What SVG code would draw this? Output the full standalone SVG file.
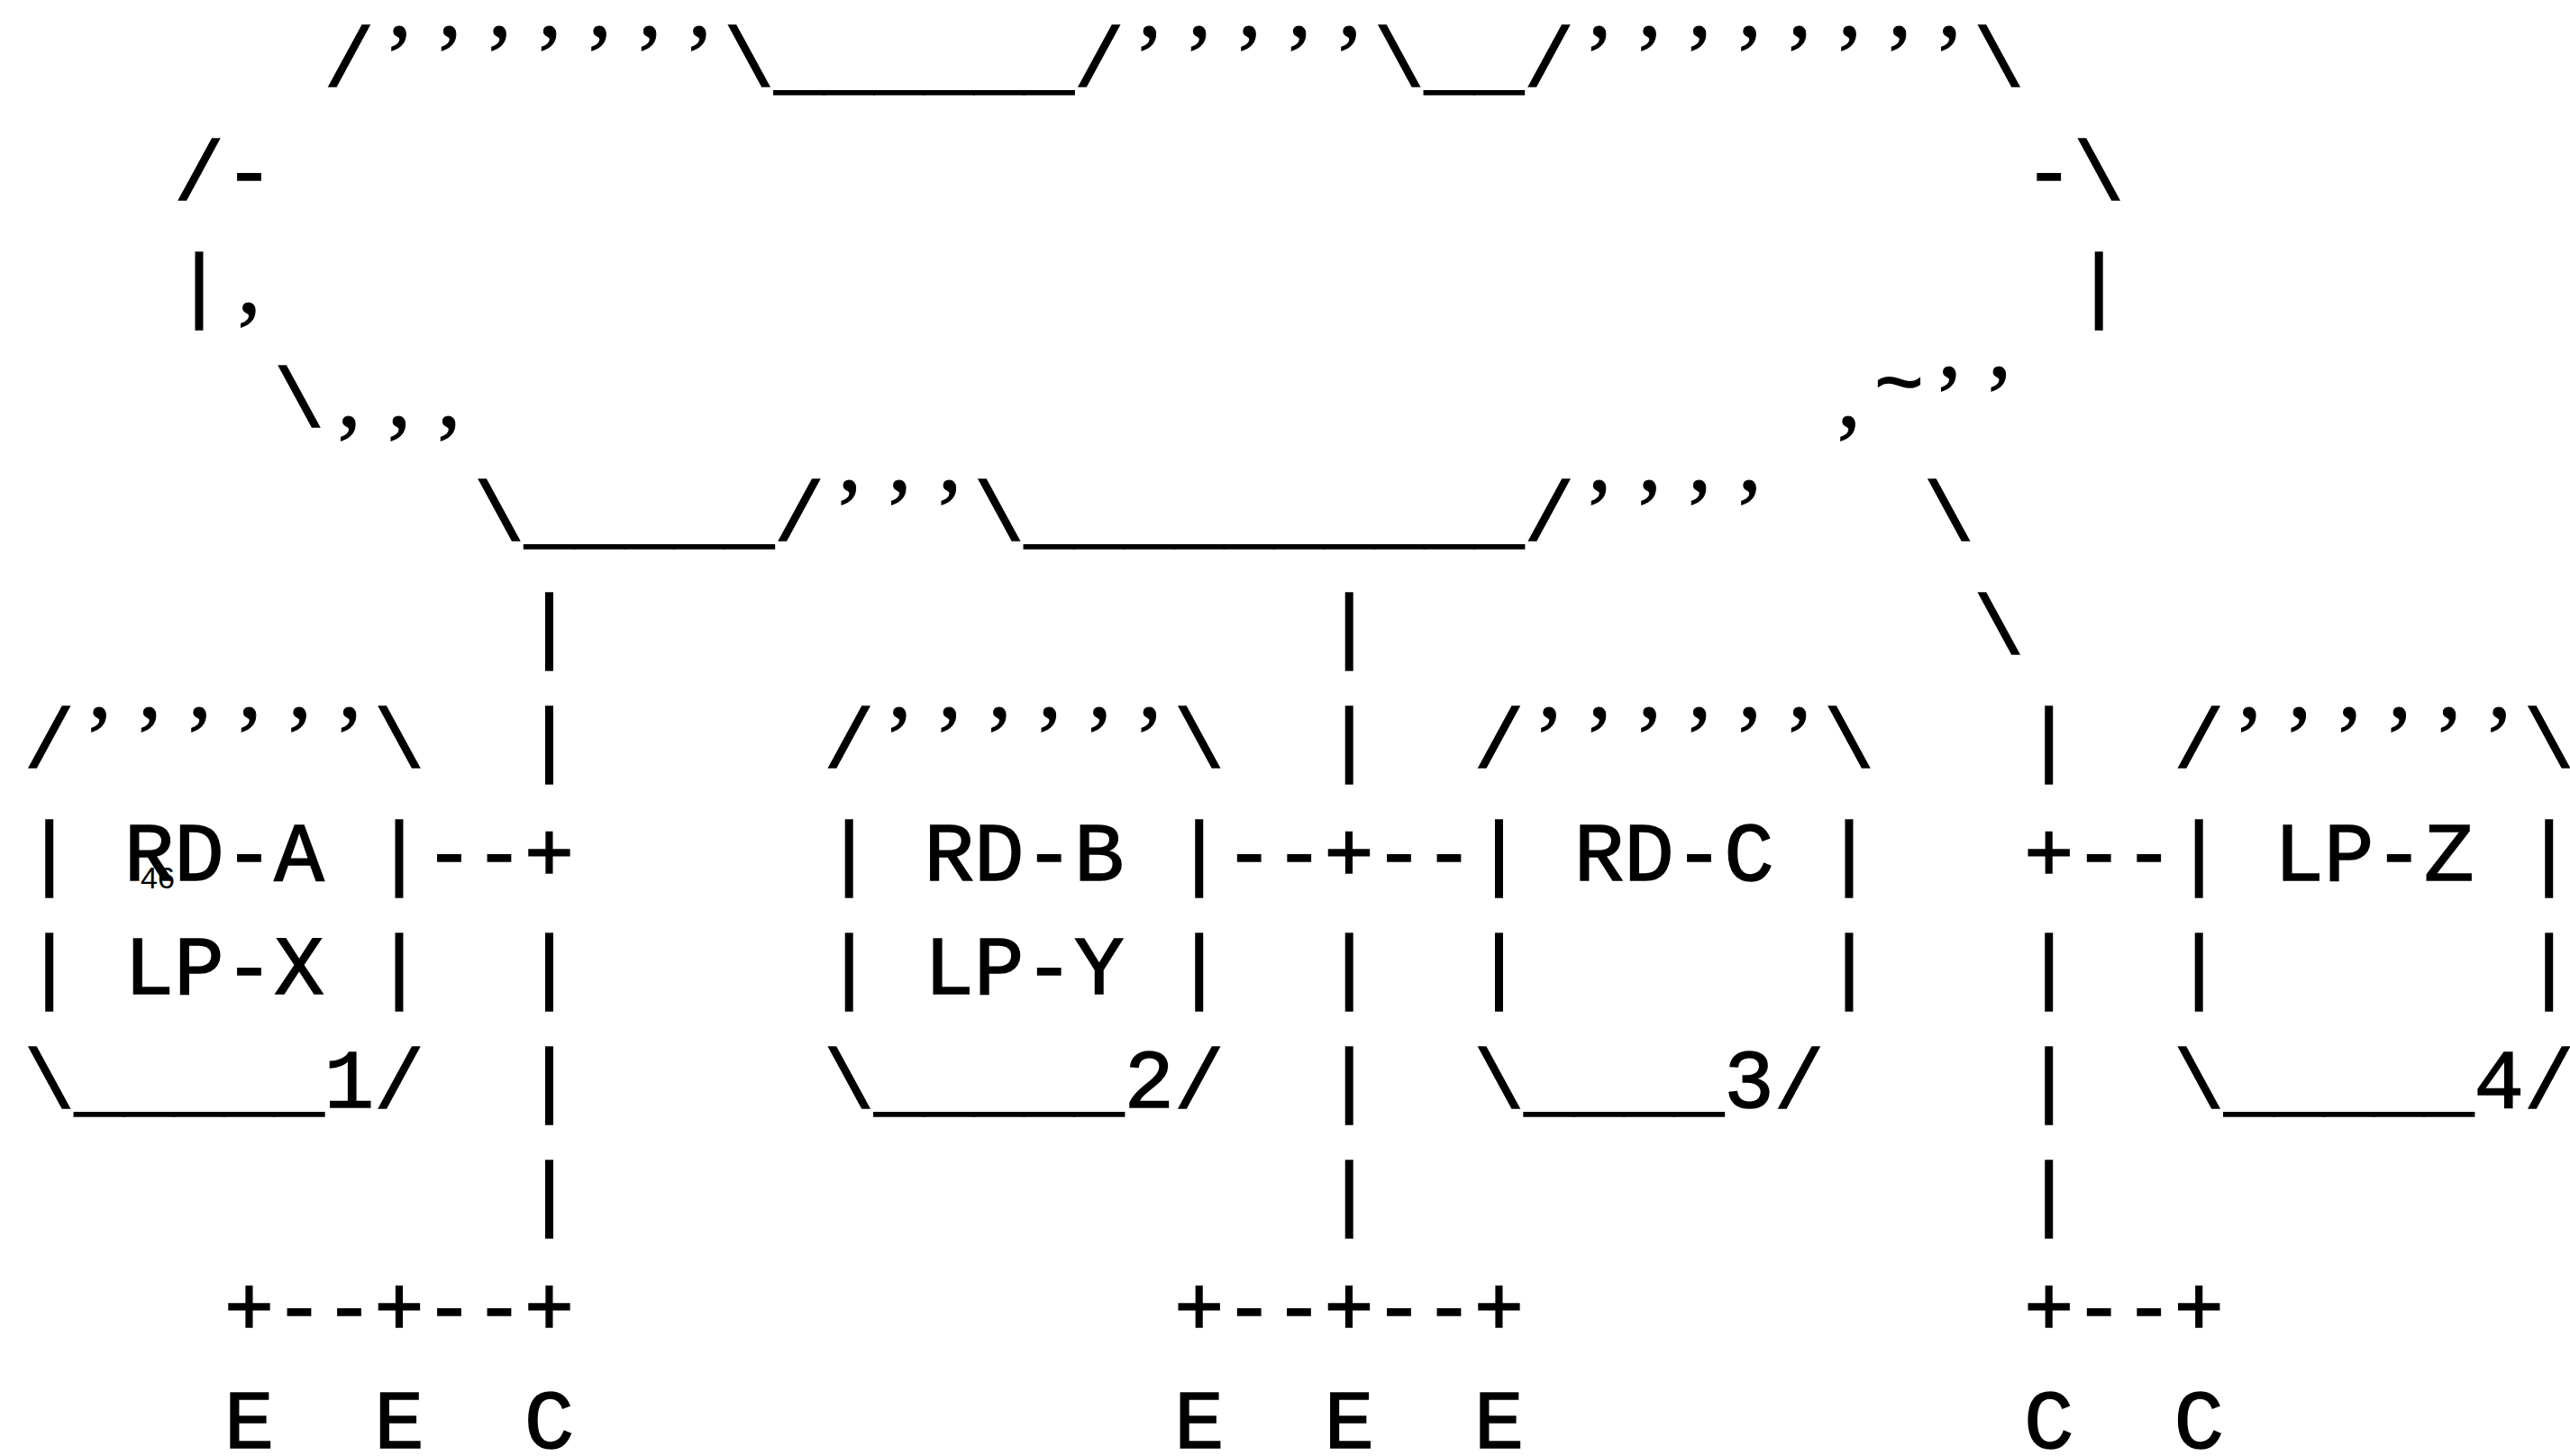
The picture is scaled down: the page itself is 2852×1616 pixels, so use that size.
<svg xmlns="http://www.w3.org/2000/svg" width="2852" height="1616" viewBox="0 0 2852 1616">
<style>
text{fill:#000;white-space:pre}
.t{font-family:"Liberation Mono","DejaVu Sans Mono",monospace;font-size:92.47px;stroke:#000;stroke-width:1.5px}
.q{font-family:"Liberation Serif","DejaVu Serif",serif;font-size:105px;stroke:#000;stroke-width:1px}
.s{font-family:"Liberation Sans","DejaVu Sans",sans-serif;font-size:34px}
</style>
<rect width="2852" height="1616" fill="#fff"/>
<g id="cloud">
<text class="t" y="95"><tspan x="359.8">/</tspan><tspan class="q" x="425.5 480.9 536.4 591.9 647.4 702.9 758.3" y="100">’’’’’’’</tspan><tspan x="803.6" y="95">\______/</tspan><tspan class="q" x="1257.7 1313.1 1368.6 1424.1 1479.6" y="100">’’’’’</tspan><tspan x="1524.9" y="95">\__/</tspan><tspan class="q" x="1757.0 1812.5 1867.9 1923.4 1978.9 2034.4 2089.9 2145.3" y="100">’’’’’’’’</tspan><tspan x="2190.6" y="95">\</tspan></text>
<text class="t" x="193.3" y="221">/-</text>
<text class="t" x="2246.1" y="221">-\</text>
<text class="t" y="347"><tspan x="193.3">|</tspan><tspan class="q" x="263.4">,</tspan></text>
<text class="t" x="2301.6" y="347">|</text>
<text class="t" y="473"><tspan x="304.3">\</tspan><tspan class="q" x="374.4 429.9 485.3">,,,</tspan></text>
<text class="t" y="473"><tspan class="q" x="2038.8">,</tspan><tspan x="2079.7" y="455">~</tspan><tspan class="q" x="2145.3 2200.8" y="478">’’</tspan></text>
<text class="t" y="599"><tspan x="526.2">\_____/</tspan><tspan class="q" x="924.8 980.3 1035.7" y="604">’’’</tspan><tspan x="1081.0" y="599">\__________/</tspan><tspan class="q" x="1757.0 1812.5 1867.9 1923.4" y="604">’’’’</tspan></text>
</g>
<g id="connectors">
<text class="t" x="2135.1" y="599">\</text>
<text class="t" x="581.7" y="725">|</text>
<text class="t" x="1469.4" y="725">|</text>
<text class="t" x="2190.6" y="725">\</text>
<text class="t" x="581.7" y="851">|</text>
<text class="t" x="1469.4" y="851">|</text>
<text class="t" x="2246.1" y="851">|</text>
<text class="t" x="470.7" y="977">--+</text>
<text class="t" x="1358.4" y="977">--+--</text>
<text class="t" x="2246.1" y="977">+--</text>
<text class="t" x="581.7" y="1103">|</text>
<text class="t" x="1469.4" y="1103">|</text>
<text class="t" x="2246.1" y="1103">|</text>
<text class="t" x="581.7" y="1229">|</text>
<text class="t" x="1469.4" y="1229">|</text>
<text class="t" x="2246.1" y="1229">|</text>
<text class="t" x="581.7" y="1355">|</text>
<text class="t" x="1469.4" y="1355">|</text>
<text class="t" x="2246.1" y="1355">|</text>
<text class="t" x="248.8" y="1481">+--+--+</text>
<text class="t" x="1302.9" y="1481">+--+--+</text>
<text class="t" x="2246.1" y="1481">+--+</text>
</g>
<g id="node-rd-a">
<text class="t" y="851"><tspan x="26.9">/</tspan><tspan class="q" x="92.6 148.1 203.5 259.0 314.5 370.0" y="856">’’’’’’</tspan><tspan x="415.3" y="851">\</tspan></text>
<text class="t" x="26.9" y="977">| RD-A |</text>
<text class="t" x="26.9" y="1103">| LP-X |</text>
<text class="t" x="26.9" y="1229">\_____1/</text>
<text class="s" x="156" y="986">46</text>
</g>
<g id="node-rd-b">
<text class="t" y="851"><tspan x="914.6">/</tspan><tspan class="q" x="980.3 1035.7 1091.2 1146.7 1202.2 1257.7" y="856">’’’’’’</tspan><tspan x="1302.9" y="851">\</tspan></text>
<text class="t" x="914.6" y="977">| RD-B |</text>
<text class="t" x="914.6" y="1103">| LP-Y |</text>
<text class="t" x="914.6" y="1229">\_____2/</text>
</g>
<g id="node-rd-c">
<text class="t" y="851"><tspan x="1635.8">/</tspan><tspan class="q" x="1701.5 1757.0 1812.5 1867.9 1923.4 1978.9" y="856">’’’’’’</tspan><tspan x="2024.2" y="851">\</tspan></text>
<text class="t" x="1635.8" y="977">| RD-C |</text>
<text class="t" x="1635.8" y="1103">|</text>
<text class="t" x="2024.2" y="1103">|</text>
<text class="t" x="1635.8" y="1229">\____3/</text>
</g>
<g id="node-lp-z">
<text class="t" y="851"><tspan x="2412.5">/</tspan><tspan class="q" x="2478.2 2533.7 2589.2 2644.7 2700.1 2755.6" y="856">’’’’’’</tspan><tspan x="2800.9" y="851">\</tspan></text>
<text class="t" x="2412.5" y="977">| LP-Z |</text>
<text class="t" x="2412.5" y="1103">|</text>
<text class="t" x="2800.9" y="1103">|</text>
<text class="t" x="2412.5" y="1229">\_____4/</text>
</g>
<g id="endpoints">
<text class="t" x="248.8" y="1607">E</text>
<text class="t" x="415.3" y="1607">E</text>
<text class="t" x="581.7" y="1607">C</text>
<text class="t" x="1302.9" y="1607">E</text>
<text class="t" x="1469.4" y="1607">E</text>
<text class="t" x="1635.8" y="1607">E</text>
<text class="t" x="2246.1" y="1607">C</text>
<text class="t" x="2412.5" y="1607">C</text>
</g>
</svg>
